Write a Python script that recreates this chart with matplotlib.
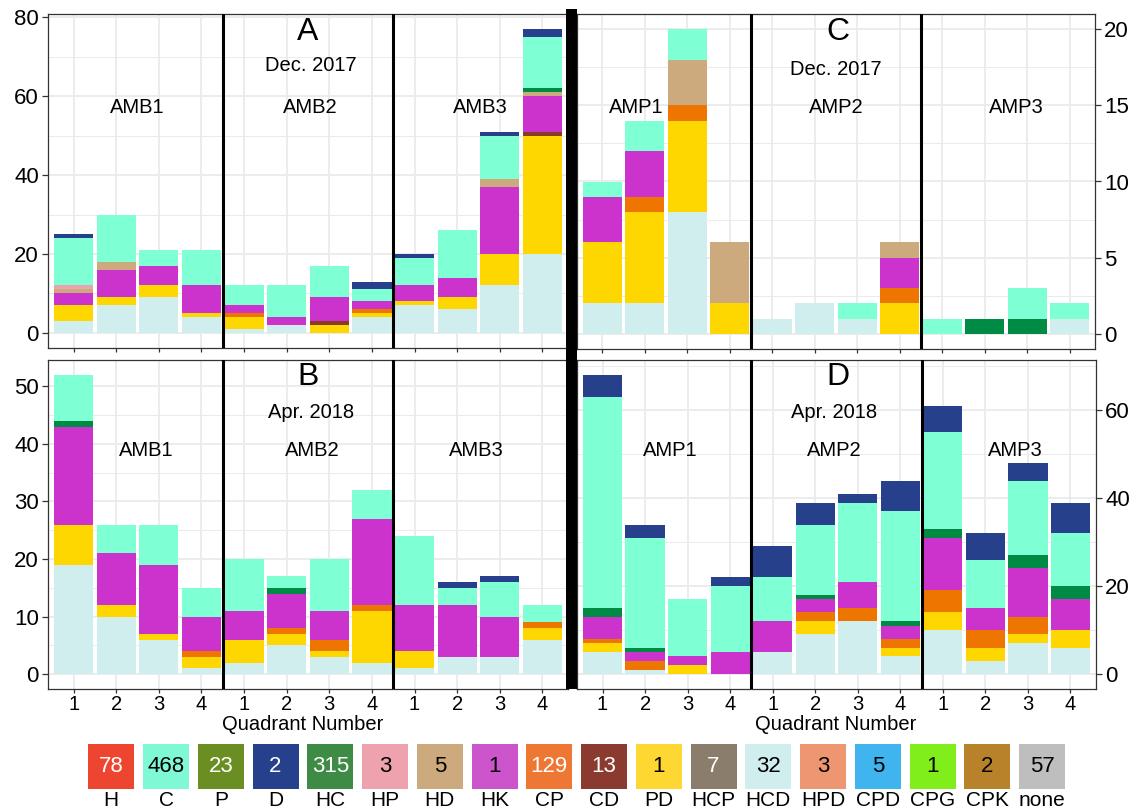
import numpy as np
import matplotlib
matplotlib.use('Agg')
import matplotlib.pyplot as plt

plt.rcParams['font.family'] = ['Liberation Sans', 'DejaVu Sans']

W, H = 1141, 809

quadrants = ['1', '2', '3', '4'] * 3
stack_order = ['HCD', 'PD', 'CD', 'CP', 'HK', 'HD', 'HP', 'HC', 'C', 'D']

# counts per quadrant (3 sites x 4 quadrants)
dec_amb = {
	'HCD': [3, 7, 9, 4, 1, 2, 0, 4, 7, 6, 12, 20],
	'PD':  [4, 2, 3, 1, 3, 0, 2, 1, 1, 3, 8, 30],
	'CD':  [0, 0, 0, 0, 0, 0, 1, 0, 0, 0, 0, 1],
	'CP':  [0, 0, 0, 0, 1, 0, 0, 1, 0, 0, 0, 0],
	'HK':  [3, 7, 5, 7, 2, 2, 6, 2, 4, 5, 17, 9],
	'HD':  [1, 2, 0, 0, 0, 0, 0, 0, 0, 0, 2, 1],
	'HP':  [1, 0, 0, 0, 0, 0, 0, 0, 0, 0, 0, 0],
	'HC':  [0, 0, 0, 0, 0, 0, 0, 0, 0, 0, 0, 1],
	'C':   [12, 12, 4, 9, 5, 8, 8, 3, 7, 12, 11, 13],
	'D':   [1, 0, 0, 0, 0, 0, 0, 2, 1, 0, 1, 2],
}
apr_amb = {
	'HCD': [19, 10, 6, 1, 2, 5, 3, 2, 1, 3, 3, 6],
	'PD':  [7, 2, 1, 2, 4, 2, 1, 9, 3, 0, 0, 2],
	'CP':  [0, 0, 0, 1, 0, 1, 2, 1, 0, 0, 0, 1],
	'HK':  [17, 9, 12, 6, 5, 6, 5, 15, 8, 9, 7, 0],
	'HC':  [1, 0, 0, 0, 0, 1, 0, 0, 0, 0, 0, 0],
	'C':   [8, 5, 7, 5, 9, 2, 9, 5, 12, 3, 6, 3],
	'D':   [0, 0, 0, 0, 0, 0, 0, 0, 0, 1, 1, 0],
}
dec_amp = {
	'HCD': [2, 2, 8, 0, 1, 2, 1, 0, 0, 0, 0, 1],
	'PD':  [4, 6, 6, 2, 0, 0, 0, 2, 0, 0, 0, 0],
	'CP':  [0, 1, 1, 0, 0, 0, 0, 1, 0, 0, 0, 0],
	'HK':  [3, 3, 0, 0, 0, 0, 0, 2, 0, 0, 0, 0],
	'HD':  [0, 0, 3, 4, 0, 0, 0, 1, 0, 0, 0, 0],
	'HC':  [0, 0, 0, 0, 0, 0, 0, 0, 0, 1, 1, 0],
	'C':   [1, 2, 2, 0, 0, 0, 1, 0, 1, 0, 2, 1],
}
apr_amp = {
	'HCD': [5, 1, 0, 0, 5, 9, 12, 4, 10, 3, 7, 6],
	'PD':  [2, 0, 2, 0, 0, 3, 0, 2, 4, 3, 2, 4],
	'CP':  [1, 2, 0, 0, 0, 2, 3, 2, 5, 4, 4, 0],
	'HK':  [5, 2, 2, 5, 7, 3, 6, 3, 12, 5, 11, 7],
	'HC':  [2, 1, 0, 0, 0, 1, 0, 1, 2, 0, 3, 3],
	'C':   [48, 25, 13, 15, 10, 16, 18, 25, 22, 11, 17, 12],
	'D':   [5, 3, 0, 2, 7, 5, 2, 7, 6, 6, 4, 7],
}

legend_names = ['H', 'C', 'P', 'D', 'HC', 'HP', 'HD', 'HK', 'CP', 'CD', 'PD',
				'HCP', 'HCD', 'HPD', 'CPD', 'CPG', 'CPK', 'none']
legend_counts = [78, 468, 23, 2, 315, 3, 5, 1, 129, 13, 1, 7, 32, 3, 5, 1, 2, 57]
legend_colors = ['#EE4530', '#7FF8D6', '#6B8E23', '#27408B', '#3D8B45', '#EEA2AD',
				 '#CDAA7D', '#CC55CC', '#EE7733', '#8B3A2F', '#FFD733', '#8B7D6B',
				 '#D1EEEE', '#EE9572', '#40B4EE', '#7FEE1B', '#B8822A', '#BEBEBE']
white_text = ['H', 'P', 'D', 'HC', 'CP', 'CD', 'HCP']

bar_colors = {'HCD': '#D1EEEE', 'PD': '#FFD700', 'CD': '#8B3A2A', 'CP': '#EE7600',
			  'HK': '#CC33CC', 'HD': '#CDAA7D', 'HP': '#EEA2AD', 'HC': '#008B45',
			  'C': '#7FFFD4', 'D': '#27408B'}


def px_axes(fig, left, right, top, bottom):
	return fig.add_axes([left / W, 1 - bottom / H, (right - left) / W, (bottom - top) / H])


def draw_panel(ax, data, yticks, side, letter, date, sites, site_x, txt_y, xlabels):
	x = np.arange(1, 13)
	bottom = np.zeros(12)
	for cat in stack_order:
		if cat not in data:
			continue
		vals = np.array(data[cat], dtype=float)
		ax.bar(x, vals, bottom=bottom, width=0.92, color=bar_colors[cat], linewidth=0, zorder=2)
		bottom += vals
	top = bottom.max()
	ax.set_ylim(-0.05 * top, 1.05 * top)
	ax.set_xlim(0.4, 12.6)
	ax.set_yticks(yticks)
	step = yticks[1] - yticks[0]
	minors = [t + step / 2 for t in yticks if t + step / 2 < 1.05 * top]
	ax.set_yticks(minors, minor=True)
	ax.set_xticks(x)
	if xlabels:
		ax.set_xticklabels(quadrants)
	else:
		ax.set_xticklabels([])
	ax.grid(which='major', color='#EBEBEB', lw=1.3, zorder=0)
	ax.grid(which='minor', axis='y', color='#EBEBEB', lw=0.7, zorder=0)
	ax.set_axisbelow(True)
	ax.tick_params(which='major', length=4, width=0.9, color='#333333', labelsize=16, pad=2.5)
	ax.tick_params(axis='x', length=3, labelsize=14.5, pad=1)
	ax.tick_params(which='minor', length=0)
	if side == 'right':
		ax.yaxis.tick_right()
	for s in ax.spines.values():
		s.set_color('#333333')
		s.set_linewidth(0.9)
	for xv in (4.5, 8.5):
		ax.axvline(xv, color='black', lw=2.2, zorder=3)
	tr = ax.get_xaxis_transform()
	ax.text(letter[0], txt_y[0], letter[1], transform=tr, ha='center', va='center', fontsize=23)
	ax.text(date[0], txt_y[1], date[1], transform=tr, ha='center', va='center', fontsize=14.5)
	for sx, name in zip(site_x, sites):
		ax.text(sx, txt_y[2], name, transform=tr, ha='center', va='center', fontsize=14.5)


fig = plt.figure(figsize=(W / 100, H / 100), dpi=100)

axA = px_axes(fig, 48, 568, 14, 348)
axC = px_axes(fig, 577, 1095, 14, 349)
axB = px_axes(fig, 48, 568, 360, 689)
axD = px_axes(fig, 577, 1096, 360, 689)

draw_panel(axA, dec_amb, [0, 20, 40, 60, 80], 'left', (6.5, 'A'), (6.56, 'Dec. 2017'),
		   ['AMB1', 'AMB2', 'AMB3'], [2.5, 6.55, 10.55], (0.946, 0.847, 0.72), False)
draw_panel(axB, apr_amb, [0, 10, 20, 30, 40, 50], 'left', (6.5, 'B'), (6.57, 'Apr. 2018'),
		   ['AMB1', 'AMB2', 'AMB3'], [2.7, 6.6, 10.45], (0.948, 0.84, 0.726), True)
draw_panel(axC, dec_amp, [0, 5, 10, 15, 20], 'right', (6.54, 'C'), (6.5, 'Dec. 2017'),
		   ['AMP1', 'AMP2', 'AMP3'], [1.8, 6.5, 10.75], (0.946, 0.835, 0.72), False)
draw_panel(axD, apr_amp, [0, 20, 40, 60], 'right', (6.53, 'D'), (6.45, 'Apr. 2018'),
		   ['AMP1', 'AMP2', 'AMP3'], [2.6, 6.45, 10.7], (0.948, 0.84, 0.726), True)

fig.text(303 / W, 1 - 724 / H, 'Quadrant Number', ha='center', va='center', fontsize=14.5)
fig.text(836 / W, 1 - 724 / H, 'Quadrant Number', ha='center', va='center', fontsize=14.5)

# overlay axes in pixel coordinates for the thick divider and the count legend
lax = fig.add_axes([0, 0, 1, 1], zorder=5)
lax.set_xlim(0, W)
lax.set_ylim(H, 0)
lax.axis('off')
lax.bar(571.5, 680, bottom=9, width=11, color='black', linewidth=0)

pitch = 54.75
lx = 88.3 + 23 + pitch * np.arange(len(legend_names))
lax.bar(lx, 45, bottom=744, width=46, color=legend_colors, linewidth=0)
for xi, name, n in zip(lx, legend_names, legend_counts):
	tc = 'white' if name in white_text else 'black'
	lax.text(xi, 767, str(n), ha='center', va='center', fontsize=16, color=tc)
	lax.text(xi, 800, name, ha='center', va='center', fontsize=15)

fig.savefig('out.png', dpi=100)
